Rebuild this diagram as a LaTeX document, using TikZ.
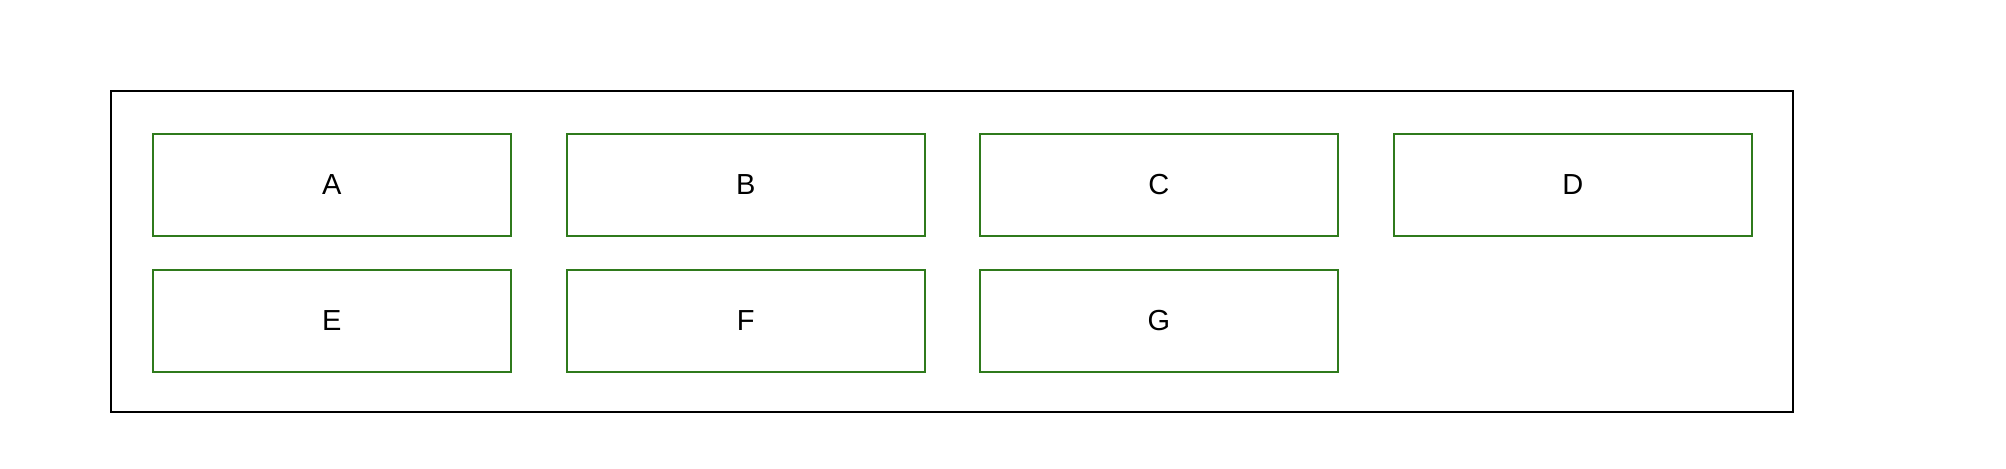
\documentclass[tikz,border=0pt]{standalone}
\usepackage{fontspec}
\setmainfont{Liberation Sans}
\definecolor{boxgreen}{HTML}{2F7A1C}
\begin{document}
\begin{tikzpicture}[x=0.5pt,y=-0.5pt,
  item/.style={draw=boxgreen,line width=0.8pt,minimum width=179pt,minimum height=51pt,inner sep=0pt,anchor=north west,font=\fontsize{14.5}{17}\selectfont},
  frame/.style={draw=black,line width=0.8pt}]
\useasboundingbox (0,0) rectangle (2006,468);
\draw[frame] (111,91) rectangle (1793,412);
\node[item] (A) at (152,133) {A};
\node[item] (B) at (566,133) {B};
\node[item] (C) at (979,133) {C};
\node[item] (D) at (1393,133) {D};
\node[item] (E) at (152,269) {E};
\node[item] (F) at (566,269) {F};
\node[item] (G) at (979,269) {G};
\end{tikzpicture}
\end{document}
